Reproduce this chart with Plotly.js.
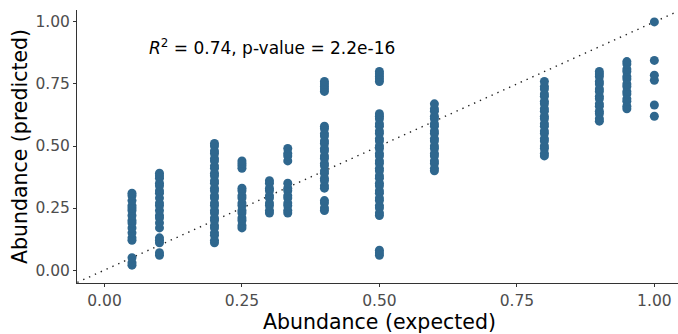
<!DOCTYPE html>
<html>
<head>
<meta charset="utf-8">
<script src="https://cdn.plot.ly/plotly-3.0.1.min.js"></script>
<style>html,body{margin:0;padding:0;background:#fff;}#plot{width:678px;height:334px;}</style>
</head>
<body>
<div id="plot"></div>
<script>
// Expected abundance levels (x) and predicted abundances (y) per level
var expectedLevels = [0.05, 0.1, 0.2, 0.25, 0.3, 0.3333, 0.4, 0.5, 0.6, 0.8, 0.9, 0.95, 1.0];
var pred005 = [0.02, 0.03, 0.05, 0.12, 0.13, 0.15, 0.17, 0.19, 0.20, 0.22, 0.24, 0.25, 0.26, 0.28, 0.30, 0.31];
var pred010 = [0.06, 0.07, 0.11, 0.12, 0.13, 0.17, 0.19, 0.21, 0.22, 0.24, 0.26, 0.27, 0.29, 0.31, 0.32, 0.34, 0.35, 0.37, 0.38, 0.39];
var pred020 = [0.11, 0.12, 0.14, 0.15, 0.17, 0.18, 0.20, 0.21, 0.23, 0.24, 0.26, 0.27, 0.29, 0.30, 0.32, 0.33, 0.35, 0.36, 0.38, 0.39, 0.41, 0.42, 0.44, 0.45, 0.47, 0.48, 0.50, 0.51];
var pred025 = [0.17, 0.18, 0.20, 0.21, 0.23, 0.24, 0.26, 0.27, 0.29, 0.30, 0.32, 0.33, 0.41, 0.42, 0.43, 0.44];
var pred030 = [0.23, 0.24, 0.26, 0.27, 0.29, 0.30, 0.32, 0.33, 0.35, 0.36];
var pred033 = [0.23, 0.24, 0.26, 0.27, 0.29, 0.30, 0.32, 0.33, 0.35, 0.44, 0.46, 0.47, 0.49];
var pred040 = [0.24, 0.25, 0.27, 0.28, 0.33, 0.34, 0.36, 0.37, 0.39, 0.40, 0.42, 0.43, 0.45, 0.46, 0.48, 0.49, 0.51, 0.52, 0.54, 0.55, 0.57, 0.58, 0.72, 0.73, 0.74, 0.75, 0.76];
var pred050 = [0.06, 0.07, 0.08, 0.22, 0.23, 0.25, 0.26, 0.28, 0.29, 0.31, 0.32, 0.34, 0.35, 0.37, 0.38, 0.40, 0.41, 0.43, 0.44, 0.46, 0.47, 0.49, 0.50, 0.52, 0.53, 0.55, 0.56, 0.58, 0.59, 0.61, 0.62, 0.63, 0.76, 0.77, 0.78, 0.79, 0.80];
var pred060 = [0.40, 0.41, 0.43, 0.44, 0.46, 0.47, 0.49, 0.50, 0.52, 0.53, 0.55, 0.56, 0.58, 0.59, 0.61, 0.62, 0.64, 0.65, 0.67];
var pred080 = [0.46, 0.47, 0.49, 0.50, 0.52, 0.53, 0.55, 0.56, 0.58, 0.59, 0.61, 0.62, 0.64, 0.65, 0.67, 0.68, 0.70, 0.71, 0.73, 0.74, 0.76];
var pred090 = [0.60, 0.61, 0.63, 0.64, 0.66, 0.67, 0.69, 0.70, 0.72, 0.73, 0.75, 0.76, 0.78, 0.79, 0.80];
var pred095 = [0.65, 0.66, 0.68, 0.69, 0.71, 0.72, 0.74, 0.75, 0.77, 0.78, 0.80, 0.81, 0.83, 0.84];
var pred100 = [0.62, 0.665, 0.765, 0.785, 0.845, 1.0];
var predGroups = [pred005, pred010, pred020, pred025, pred030, pred033, pred040, pred050, pred060, pred080, pred090, pred095, pred100];
var identityLine = [-0.06, 1.06];
var tickVals = [0, 0.25, 0.5, 0.75, 1.0];
var tickText = ['0.00', '0.25', '0.50', '0.75', '1.00'];
var xTitle = 'Abundance (expected)';
var yTitle = 'Abundance (predicted)';

var xs = [], ys = [];
expectedLevels.forEach(function (lvl, i) {
  predGroups[i].forEach(function (v) { xs.push(lvl); ys.push(v); });
});

var traces = [
  {
    x: identityLine, y: identityLine, type: 'scatter', mode: 'lines',
    line: {color: '#222222', width: 1.4, dash: '1.4px,5px'}, hoverinfo: 'skip', showlegend: false
  },
  {
    x: xs, y: ys, type: 'scatter', mode: 'markers',
    marker: {color: '#2F678E', size: 9, line: {width: 0}}, showlegend: false
  }
];

var axisCommon = {
  showline: true, linecolor: '#333333', linewidth: 1,
  ticks: 'outside', ticklen: 3, tickcolor: '#333333', tickwidth: 1,
  showgrid: false, zeroline: false,
  tickvals: tickVals, ticktext: tickText,
  tickfont: {family: 'DejaVu Sans, sans-serif', size: 15.5, color: '#4D4D4D'}
};

var layout = {
  width: 678, height: 334,
  margin: {l: 77, r: 0, t: 10, b: 51},
  paper_bgcolor: '#ffffff', plot_bgcolor: '#ffffff',
  font: {family: 'DejaVu Sans, sans-serif'},
  xaxis: Object.assign({}, axisCommon, {
    range: [-0.05, 1.043]
  }),
  yaxis: Object.assign({}, axisCommon, {
    range: [-0.052, 1.048],
    title: {text: yTitle, font: {size: 20.5, color: '#000000'}, standoff: 2}
  }),
  annotations: [{
    x: 0.305, y: 0.9, xref: 'x', yref: 'y', showarrow: false,
    text: '<i>R</i><sup>2</sup> = 0.74, p-value = 2.2e-16',
    font: {family: 'DejaVu Sans, sans-serif', size: 17, color: '#000000'},
    xanchor: 'center', yanchor: 'middle'
  }, {
    x: 0.5, y: 0, xref: 'x', yref: 'paper', yshift: -39, showarrow: false,
    text: xTitle,
    font: {family: 'DejaVu Sans, sans-serif', size: 20.5, color: '#000000'},
    xanchor: 'center', yanchor: 'middle'
  }]
};

Plotly.newPlot('plot', traces, layout, {displayModeBar: false, staticPlot: true});
</script>
</body>
</html>
